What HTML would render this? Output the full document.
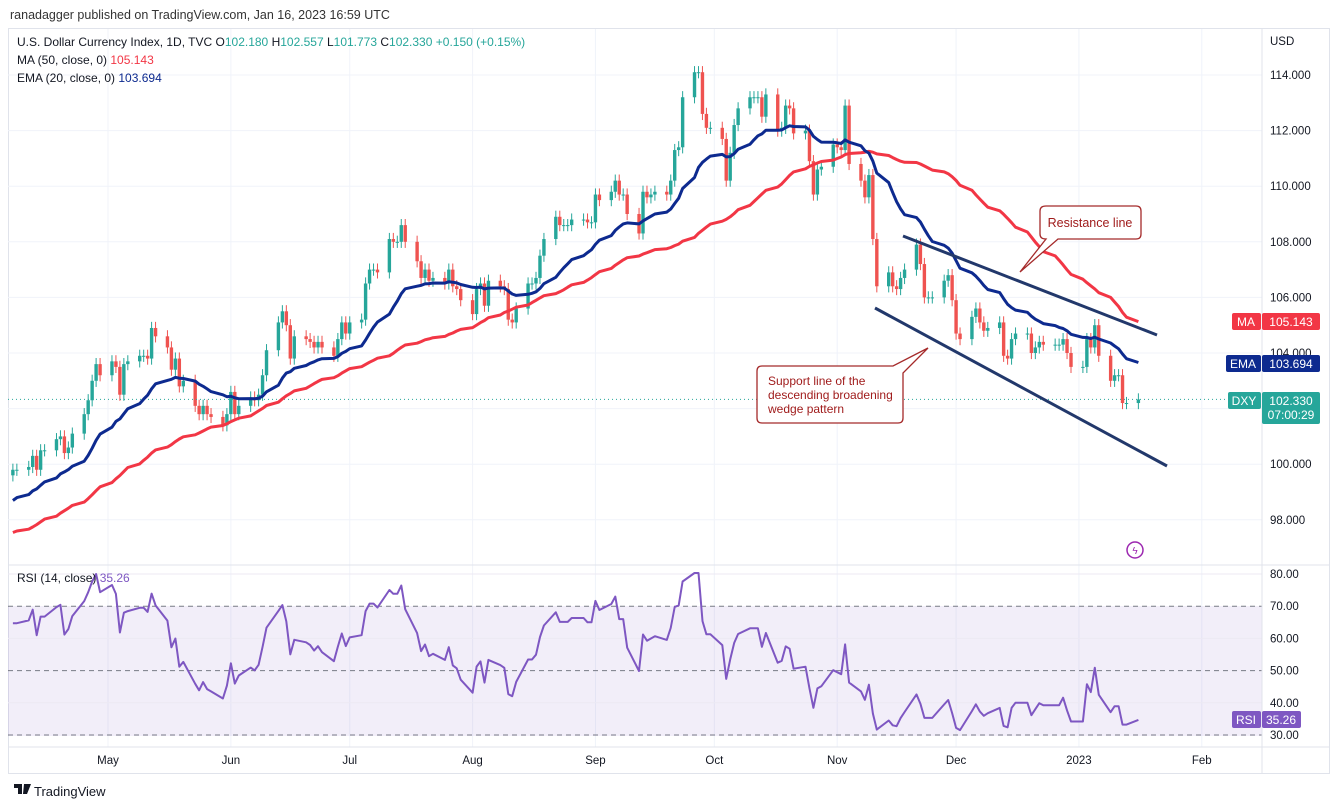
<!DOCTYPE html>
<html><head><meta charset="utf-8"><style>
html,body{margin:0;padding:0;background:#fff;width:1339px;height:809px;overflow:hidden;font-family:"Liberation Sans",sans-serif;}
</style></head><body>
<svg id="c" width="1339" height="809" xmlns="http://www.w3.org/2000/svg" style="font-family:'Liberation Sans',sans-serif">
<text x="10" y="19" font-size="12.5" fill="#333">ranadagger published on TradingView.com, Jan 16, 2023 16:59 UTC</text>
<rect x="8.5" y="28.5" width="1321" height="745" fill="#fff" stroke="#e0e3eb"/>
<g id="grid"></g>
<rect x="8" y="606" width="1254" height="130" fill="#7e57c2" fill-opacity="0.1"/>
<g id="rsigrid"></g>
<g id="candles"></g>
<g id="lines"></g>
<line x1="8" y1="565" x2="1329" y2="565" stroke="#e0e3eb"/>
<line x1="8" y1="747" x2="1329" y2="747" stroke="#e0e3eb"/>
<line x1="1262" y1="28" x2="1262" y2="773" stroke="#e0e3eb"/>
<g>
<line x1="903" y1="236" x2="1157" y2="335" stroke="#22386b" stroke-width="3"/>
<line x1="875" y1="308" x2="1167" y2="466" stroke="#22386b" stroke-width="3"/>
</g>
<g>
<path d="M1046,206 H1136 Q1141,206 1141,211 V234 Q1141,239 1136,239 H1058 L1020,272 L1046,239 Q1040,239 1040,234 V211 Q1040,206 1046,206 Z" fill="#fff" stroke="#a52a2a" stroke-width="1.3"/>
<text x="1090" y="227" font-size="12.5" fill="#a01c1c" text-anchor="middle">Resistance line</text>
</g>
<g>
<path d="M762,366 H893 L928,348 L903,373 V418 Q903,423 898,423 H762 Q757,423 757,418 V371 Q757,366 762,366 Z" fill="#fff" stroke="#a52a2a" stroke-width="1.3"/>
<text font-size="12" fill="#a01c1c"><tspan x="768" y="385">Support line of the</tspan><tspan x="768" y="399">descending broadening</tspan><tspan x="768" y="413">wedge pattern</tspan></text>
</g>
<g font-size="12">
<text x="17" y="46" fill="#131722">U.S. Dollar Currency Index, 1D, TVC  O<tspan fill="#26a69a">102.180</tspan>  H<tspan fill="#26a69a">102.557</tspan>  L<tspan fill="#26a69a">101.773</tspan>  C<tspan fill="#26a69a">102.330</tspan>  <tspan fill="#26a69a">+0.150 (+0.15%)</tspan></text>
<text x="17" y="64" fill="#131722">MA (50, close, 0)  <tspan fill="#f23645">105.143</tspan></text>
<text x="17" y="82" fill="#131722">EMA (20, close, 0)  <tspan fill="#0d2a8f">103.694</tspan></text>
<text x="17" y="582" fill="#131722">RSI (14, close)  <tspan fill="#7e57c2">35.26</tspan></text>
</g>
<g id="axis" font-size="11.5" fill="#131722"></g>
<g><circle cx="1135" cy="550" r="8" fill="none" stroke="#9c27b0" stroke-width="1.5"/><text x="1135" y="554" font-size="10" fill="#9c27b0" text-anchor="middle">ϟ</text></g>
<g font-size="12">
<rect x="1232" y="313" width="29" height="17" rx="2" fill="#f23645"/><text x="1246" y="326" fill="#fff" text-anchor="middle">MA</text>
<rect x="1262" y="313" width="58" height="17" rx="2" fill="#f23645"/><text x="1291" y="326" fill="#fff" text-anchor="middle">105.143</text>
<rect x="1226" y="355" width="35" height="17" rx="2" fill="#0d2a8f"/><text x="1243" y="368" fill="#fff" text-anchor="middle">EMA</text>
<rect x="1262" y="355" width="58" height="17" rx="2" fill="#0d2a8f"/><text x="1291" y="368" fill="#fff" text-anchor="middle">103.694</text>
<rect x="1228" y="392" width="33" height="17" rx="2" fill="#26a69a"/><text x="1244" y="405" fill="#fff" text-anchor="middle">DXY</text>
<rect x="1262" y="392" width="58" height="32" rx="2" fill="#26a69a"/><text x="1291" y="405" fill="#fff" text-anchor="middle">102.330</text><text x="1291" y="419" fill="#fff" text-anchor="middle">07:00:29</text>
<rect x="1232" y="711" width="29" height="17" rx="2" fill="#7e57c2"/><text x="1246" y="724" fill="#fff" text-anchor="middle">RSI</text>
<rect x="1262" y="711" width="39" height="17" rx="2" fill="#7e57c2"/><text x="1281" y="724" fill="#fff" text-anchor="middle">35.26</text>
</g>
<g>
<path d="M14,784 h8 v10 h-4 v-6 h-4 z M24,784 h7 l-4,10 h-4 z" fill="#131722"/>
<text x="34" y="796" font-size="13" fill="#131722">TradingView</text>
</g>
</svg>
<script>
const NS='http://www.w3.org/2000/svg';
const priorCloses=[97.3,97.2,96.6,96.3,95.6,95.5,95.6,95.7,95.5,96.0,96.1,96.0,95.9,95.9,96.2,96.3,96.1,96.2,96.6,96.7,96.2,96.6,97.4,97.5,98.0,97.8,98.7,99.3,99.1,98.1,98.1,99.1,98.5,98.6,98.4,98.2,98.3,98.6,98.8,98.5,98.8,99.0,98.4,97.8,98.0,98.6,99.0,99.0,99.4,99.6];
const closes=[99.8,99.8,
99.9,100.3,99.8,100.5,100.5, 100.9,101.0,100.4,100.6,101.1, 101.8,102.3,103.0,103.6,103.2,
103.7,103.5,102.5,103.6,103.7, 103.9,103.9,103.8,104.9,104.6, 104.2,103.4,103.8,102.8,103.0,
102.1,101.8,102.1,101.8,101.7, 101.4,101.8,102.6,101.8,102.1, 102.4,102.3,102.5,103.2,104.1,
105.1,105.5,105.0,103.8,104.6, 104.5,104.4,104.2,104.4,104.2, 103.9,104.5,105.1,104.7,105.1,
105.2,106.5,107.0,107.0,106.9, 108.1,108.0,108.0,108.6,108.0, 107.3,106.7,107.0,106.6,106.7,
106.5,107.0,106.4,106.3,105.9, 105.4,106.3,106.5,105.7,106.6, 106.4,106.3,105.2,105.1,105.6,
106.5,106.5,106.7,107.5,108.1, 108.9,108.6,108.6,108.6,108.8, 108.8,108.7,108.7,109.7,109.5,
109.8,110.2,109.7,109.7,109.0, 108.3,109.8,109.6,109.7,109.8, 109.7,110.2,111.3,111.4,113.2,
114.1,114.1,112.6,112.1,112.1, 111.7,110.2,111.2,112.2,112.8, 113.2,113.2,113.2,112.5,113.3,
112.0,112.1,112.9,112.8,111.9, 112.0,110.9,109.7,110.6,110.7, 111.5,111.4,111.3,112.9,110.8,
110.2,109.6,110.4,108.1,106.4, 106.9,106.4,106.3,106.7,107.0, 107.9,107.2,106.0,106.0,106.0,
106.6,106.8,105.9,104.7,104.5, 105.3,105.6,105.1,104.8,104.9, 105.1,103.9,103.8,104.5,104.7,
104.7,104.0,104.2,104.4,104.3, 104.3,104.3,104.5,104.0,103.5, 103.5,104.5,104.2,105.0,103.9,
103.0,103.2,103.2,102.2,102.2, 102.33];
const priceTicks=[114,112,110,108,106,104,102,100,98];
const rsiTicks=[80,70,60,50,40,30];
const monthLabels=['May','Jun','Jul','Aug','Sep','Oct','Nov','Dec','2023','Feb'];
const monthDates=[[2022,4,1],[2022,5,1],[2022,6,1],[2022,7,1],[2022,8,1],[2022,9,1],[2022,10,1],[2022,11,1],[2023,0,1],[2023,1,1]];

const DAY=86400000, T0=Date.UTC(2022,4,1);
const xOfT=t=>108+(t-T0)/DAY*3.963;
const yP=p=>75+(114-p)*27.8;
const yR=r=>574+(80-r)*3.22;
// weekday dates
const dates=[];let t=Date.UTC(2022,3,7);
while(dates.length<closes.length){const d=new Date(t).getUTCDay();if(d!==0&&d!==6)dates.push(t);t+=DAY;}
const X=dates.map(xOfT);
function el(p,tag,a){const e=document.createElementNS(NS,tag);for(const k in a)e.setAttribute(k,a[k]);p.appendChild(e);return e;}
const grid=document.getElementById('grid'),axis=document.getElementById('axis');
priceTicks.forEach(p=>{
  const l=el(grid,'line',{x1:8,x2:1262,y1:yP(p),y2:yP(p),stroke:'#f0f3fa'});
  
  
  const tx=el(axis,'text',{x:1270,y:yP(p)+4});tx.textContent=p.toFixed(3);
  
  
});
const u=el(axis,'text',{x:1270,y:45});u.textContent='USD';


monthDates.forEach((m,i)=>{
  const x=xOfT(Date.UTC(m[0],m[1],m[2]));
  const l=el(grid,'line',{x1:x,x2:x,y1:29,y2:747,stroke:'#f0f3fa'});
  
  
  const tx=el(axis,'text',{x:x,y:764,'text-anchor':'middle'});tx.textContent=monthLabels[i];
  
  
});
const rg=document.getElementById('rsigrid');
rsiTicks.forEach(r=>{
  const dashed=(r===70||r===50||r===30);
  const l=el(rg,'line',{x1:8,x2:1262,y1:yR(r),y2:yR(r),stroke:dashed?'#787b86':'#ece9f3','stroke-dasharray':dashed?'5,4':'none'});
  
  
  const tx=el(axis,'text',{x:1270,y:yR(r)+4});tx.textContent=r.toFixed(2);
  
  
});
// candles
const cg=document.getElementById('candles');
closes.forEach((c,i)=>{
  const o=i===0?priorCloses[priorCloses.length-1]:closes[i-1];
  const hi=Math.max(o,c)+0.22,lo=Math.min(o,c)-0.22;
  const col=c>=o?'#26a69a':'#ef5350';
  const g=el(cg,'g',{});
  
  
  el(g,'line',{x1:X[i],x2:X[i],y1:yP(hi),y2:yP(lo),stroke:col,'stroke-width':1});
  const top=yP(Math.max(o,c)),h=Math.max(1,yP(Math.min(o,c))-top);
  el(g,'rect',{x:X[i]-1.7,y:top,width:3.4,height:h,fill:col});
});
// last price dotted line
const dl=el(cg,'line',{x1:8,x2:1262,y1:yP(closes[closes.length-1]),y2:yP(closes[closes.length-1]),stroke:'#26a69a','stroke-dasharray':'1,3'});


// indicators
const all=priorCloses.concat(closes),P=priorCloses.length;
const ma=[],ema=[],rsi=[];
let e=all.slice(0,20).reduce((a,b)=>a+b,0)/20;
for(let i=20;i<all.length;i++){e=e+(all[i]-e)*2/21;if(i>=P)ema.push(e);}
for(let i=P;i<all.length;i++){let s=0;for(let k=i-49;k<=i;k++)s+=all[k];ma.push(s/50);}
let ag=0,al=0;
for(let i=1;i<=14;i++){const d=all[i]-all[i-1];if(d>0)ag+=d;else al-=d;}
ag/=14;al/=14;
for(let i=15;i<all.length;i++){const d=all[i]-all[i-1];ag=(ag*13+Math.max(d,0))/14;al=(al*13+Math.max(-d,0))/14;if(i>=P)rsi.push(100-100/(1+ag/al));}
const lg=document.getElementById('lines');
function poly(arr,yf,col,w,name){
  const p=el(lg,'polyline',{points:arr.map((v,i)=>X[i].toFixed(1)+','+yf(v).toFixed(1)).join(' '),fill:'none',stroke:col,'stroke-width':w,'stroke-linejoin':'round'});
  
  
}
poly(ma,yP,'#f23645',3,'ma50-line');
poly(ema,yP,'#0d2a8f',3,'ema20-line');
poly(rsi,yR,'#7e57c2',2,'rsi-line');
</script>
</body></html>
